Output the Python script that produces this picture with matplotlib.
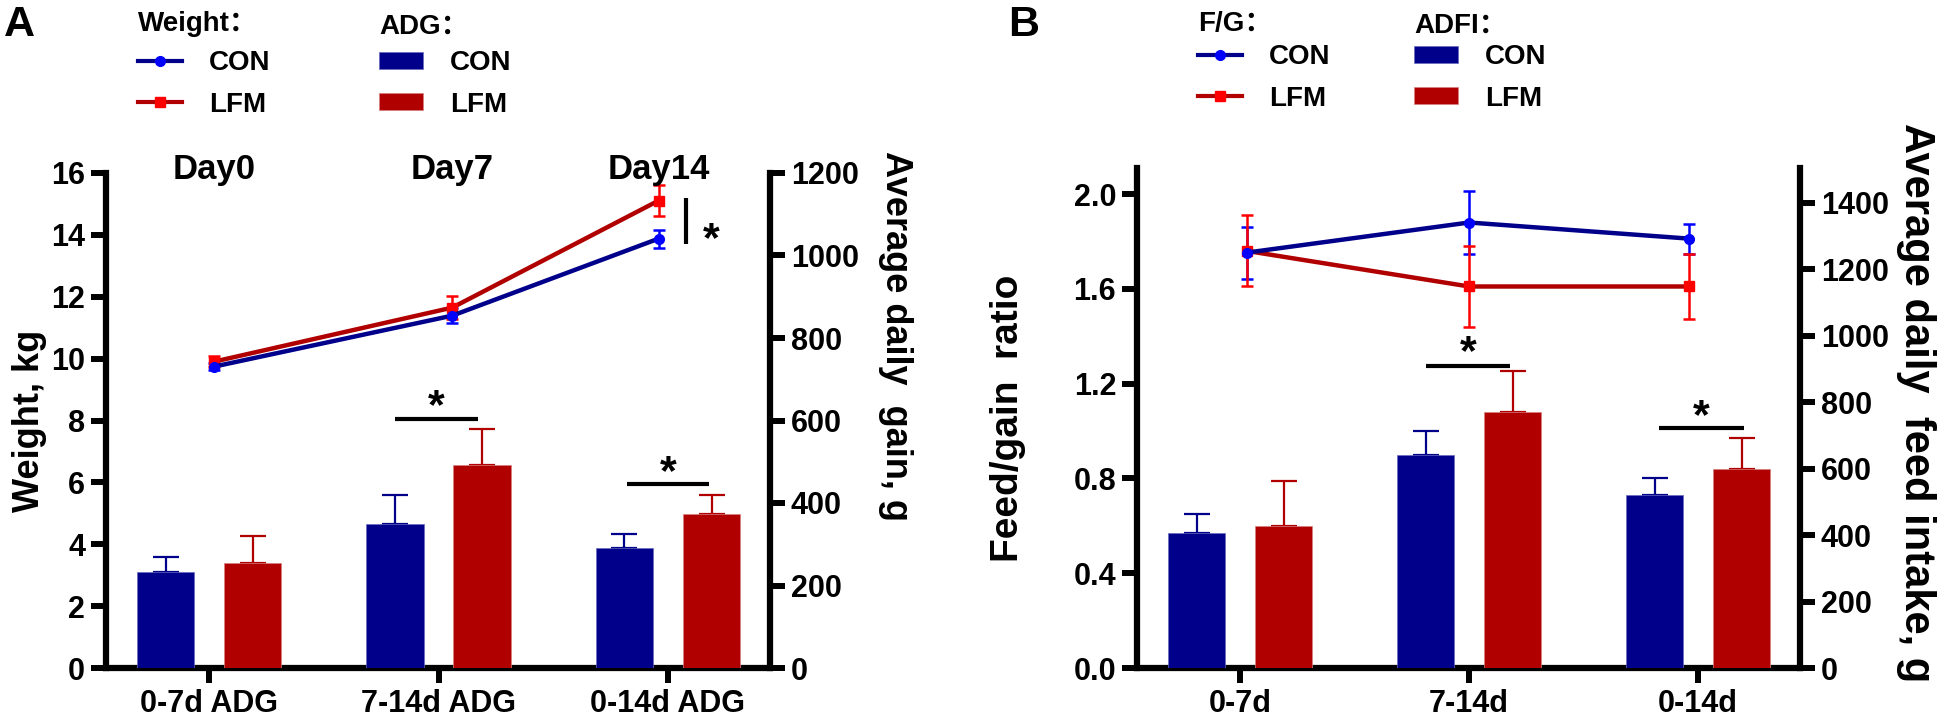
import numpy as np
import matplotlib
matplotlib.use("Agg")
import matplotlib.pyplot as plt
from matplotlib.lines import Line2D
from matplotlib.patches import Patch
from matplotlib.ticker import FormatStrFormatter

plt.rcParams["font.family"] = ["Liberation Sans", "Noto Sans CJK SC", "DejaVu Sans"]
plt.rcParams["font.weight"] = "bold"
plt.rcParams["axes.labelweight"] = "bold"
plt.rcParams["axes.linewidth"] = 4.5

NAVY = "#00008B"
DARKRED = "#B00000"
BLUE = "#0000FF"
RED = "#FF0000"

# ---- Panel A: body weight (kg) and ADG (g) ----
adg_periods = ["0-7d ADG", "7-14d ADG", "0-14d ADG"]
adg_con = [233, 349, 290]
adg_con_sd = [37, 71, 34]
adg_lfm = [255, 491, 373]
adg_lfm_sd = [64, 88, 47]

weight_days = ["Day0", "Day7", "Day14"]
weight_pos = [0.02, 1.06, 1.96]
weight_con = [9.74, 11.39, 13.88]
weight_con_sd = [0.12, 0.24, 0.29]
weight_lfm = [9.90, 11.65, 15.11]
weight_lfm_sd = [0.18, 0.36, 0.50]

# ---- Panel B: feed/gain ratio and ADFI (g) ----
fi_periods = ["0-7d", "7-14d", "0-14d"]
adfi_con = [407, 642, 521]
adfi_con_sd = [57, 71, 50]
adfi_lfm = [428, 770, 599]
adfi_lfm_sd = [136, 125, 93]

fg_pos = [0.03, 1.0, 1.96]
fg_con = [1.753, 1.88, 1.812]
fg_con_sd = [0.11, 0.135, 0.063]
fg_lfm = [1.76, 1.61, 1.61]
fg_lfm_sd = [0.15, 0.17, 0.136]

W, H = 1943, 724
BAR_W = 0.25
OFF = 0.19
TICK_FS = 22
TITLE_FONT = ["Liberation Sans", "Noto Sans CJK SC"]


def style_axes(ax, ax2):
    for a in (ax, ax2):
        a.spines["top"].set_visible(False)
    ax.spines["right"].set_visible(False)
    ax2.spines["left"].set_visible(False)
    ax2.spines["bottom"].set_visible(False)
    for a in (ax, ax2):
        a.tick_params(axis="both", direction="out", length=11, width=4.3,
                      labelsize=TICK_FS, pad=4)
    ax.set_xlim(-0.45, 2.445)


def draw_bars(ax, con, con_sd, lfm, lfm_sd):
    x = np.arange(len(con))
    ax.bar(x - OFF, con, BAR_W, color=NAVY, edgecolor="#6a6ac0", linewidth=0.5, zorder=2)
    ax.bar(x + OFF, lfm, BAR_W, color=DARKRED, edgecolor="#d88080", linewidth=0.5, zorder=2)
    ax.errorbar(x - OFF, con, yerr=[np.zeros(len(con)), con_sd], fmt="none",
                ecolor=NAVY, elinewidth=1.6, capsize=9.5, capthick=1.6, zorder=1)
    ax.errorbar(x + OFF, lfm, yerr=[np.zeros(len(lfm)), lfm_sd], fmt="none",
                ecolor=DARKRED, elinewidth=1.6, capsize=9.5, capthick=1.6, zorder=1)


def draw_lines(ax, pos, con, con_sd, lfm, lfm_sd):
    ax.errorbar(pos, con, yerr=con_sd, fmt="none", ecolor=BLUE, elinewidth=1.8,
                capsize=4, capthick=1.8, zorder=3)
    ax.errorbar(pos, lfm, yerr=lfm_sd, fmt="none", ecolor=RED, elinewidth=1.8,
                capsize=4, capthick=1.8, zorder=3)
    ax.plot(pos, lfm, color=DARKRED, lw=3.2, marker="s", ms=7, mfc=RED, mec=RED, zorder=4)
    ax.plot(pos, con, color=NAVY, lw=3.2, marker="o", ms=7, mfc=BLUE, mec=BLUE, zorder=4)


def star(ax, x, y):
    ax.annotate("*", xy=(x, y), xytext=(0, -18), textcoords="offset points",
                ha="center", va="baseline", fontsize=31, annotation_clip=False)


def sig_line(ax, x0, x1, y, ystar):
    ax.plot([x0, x1], [y, y], color="black", lw=3, solid_capstyle="butt", clip_on=False)
    star(ax, (x0 + x1) / 2, ystar)


def add_legend(fig, title, kind, x, title_y, top):
    fig.text(x / W, 1 - title_y / H, title, fontsize=20, ha="left", va="center",
             family=TITLE_FONT)
    if kind == "line":
        handles = [Line2D([], [], color=NAVY, lw=3, marker="o", ms=7, mfc=BLUE, mec=BLUE),
                   Line2D([], [], color=DARKRED, lw=3, marker="s", ms=7, mfc=RED, mec=RED)]
    else:
        handles = [Patch(facecolor=NAVY, edgecolor="#6a6ac0", linewidth=0.5),
                   Patch(facecolor=DARKRED, edgecolor="#d88080", linewidth=0.5)]
    fig.legend(handles=handles, labels=["CON", "LFM"],
               loc="upper left", bbox_to_anchor=(x / W, 1 - top / H),
               frameon=False, fontsize=20, numpoints=1,
               handlelength=1.6, handleheight=0.55, handletextpad=0.95,
               labelspacing=0.56, borderpad=0, borderaxespad=0)


fig = plt.figure(figsize=(W / 100, H / 100), dpi=100)

# ---------------- Panel A ----------------
axA = fig.add_axes([106 / W, (H - 668) / H, 664 / W, 495 / H])
axA2 = axA.twinx()
style_axes(axA, axA2)
axA.set_ylim(0, 16)
axA.set_yticks(np.arange(0, 17, 2))
axA2.set_ylim(0, 1200)
axA2.set_yticks(np.arange(0, 1201, 200))
axA.set_xticks(range(len(adg_periods)))
axA.set_xticklabels(adg_periods)

draw_bars(axA2, adg_con, adg_con_sd, adg_lfm, adg_lfm_sd)
draw_lines(axA, weight_pos, weight_con, weight_con_sd, weight_lfm, weight_lfm_sd)
for p, d in zip(weight_pos, weight_days):
    axA.text(p, 16.1, d, ha="center", va="center", fontsize=25, clip_on=False)

axA.set_ylabel("Weight, kg", fontsize=26, labelpad=3)
axA2.set_ylabel("Average daily  gain, g", fontsize=26, rotation=270, va="bottom", labelpad=14)
axA2.yaxis.label.set_y(0.67)

sig_line(axA, 0.81, 1.17, 8.05, 8.9)
sig_line(axA, 1.82, 2.18, 5.96, 6.75)
axA.plot([2.08, 2.08], [13.72, 15.18], color="black", lw=3, solid_capstyle="butt")
star(axA, 2.19, 14.27)

# ---------------- Panel B ----------------
axB = fig.add_axes([1137 / W, (H - 668) / H, 663 / W, 500 / H])
axB2 = axB.twinx()
style_axes(axB, axB2)
axB.set_ylim(0, 2.11)
axB.set_yticks(np.arange(0, 2.01, 0.4))
axB.yaxis.set_major_formatter(FormatStrFormatter("%.1f"))
axB2.set_ylim(0, 1505)
axB2.set_yticks(np.arange(0, 1401, 200))
axB.set_xticks(range(len(fi_periods)))
axB.set_xticklabels(fi_periods)

draw_bars(axB2, adfi_con, adfi_con_sd, adfi_lfm, adfi_lfm_sd)
draw_lines(axB, fg_pos, fg_con, fg_con_sd, fg_lfm, fg_lfm_sd)

axB.set_ylabel("Feed/gain  ratio", fontsize=28, labelpad=34)
axB2.set_ylabel("Average daily  feed intake, g", fontsize=30, rotation=270,
                va="bottom", labelpad=5)
axB2.yaxis.label.set_y(0.53)

sig_line(axB, 0.81, 1.18, 1.275, 1.39)
sig_line(axB, 1.83, 2.2, 1.013, 1.12)

# ---------------- legends & panel letters ----------------
add_legend(fig, "Weight：", "line", 138, 24, 50)
add_legend(fig, "ADG：", "patch", 379, 27, 50)
add_legend(fig, "F/G：", "line", 1198, 24, 44)
add_legend(fig, "ADFI：", "patch", 1414, 26, 44)

fig.text(4 / W, 1 - 25 / H, "A", fontsize=31, ha="left", va="center")
fig.text(1008 / W, 1 - 25 / H, "B", fontsize=31, ha="left", va="center")

fig.savefig("out.png", dpi=100)
